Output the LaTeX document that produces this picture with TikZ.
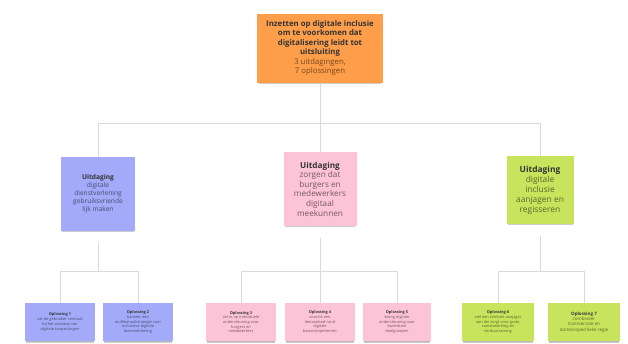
\documentclass[tikz,border=0pt]{standalone}
\usepackage{fontspec}
\setmainfont{Open Sans}
\usetikzlibrary{shadows}
\definecolor{orng}{HTML}{FF9E4A}
\definecolor{blu}{HTML}{A3AAF9}
\definecolor{pnk}{HTML}{FDC4D8}
\definecolor{grn}{HTML}{C8E45C}
\definecolor{connc}{HTML}{DADADA}
\tikzset{
  note/.style={rectangle, align=center, inner sep=1pt,
    drop shadow={shadow xshift=0pt, shadow yshift=-2.5pt, opacity=0.28, fill=black!70, shadow scale=0.97}},
  topnote/.style={note, fill=orng, minimum width=126pt, minimum height=69pt,
    font=\fontsize{7.8}{9.5}\selectfont, text=black!80},
  chal/.style={note, minimum width=#1, minimum height=74pt, text=black!80},
  bluenote/.style={chal=74pt, fill=blu, font=\fontsize{6.6}{7.9}\selectfont},
  pinknote/.style={chal=73pt, fill=pnk, font=\fontsize{8.2}{9.6}\selectfont},
  greennote/.style={chal=67pt, fill=grn, minimum height=68pt, font=\fontsize{8.4}{10}\selectfont},
  sol/.style={note, minimum width=70pt, minimum height=38pt, text=black!78,
    font=\fontsize{3.9}{4.7}\selectfont,
    drop shadow={shadow xshift=0pt, shadow yshift=-1.5pt, opacity=0.15, fill=black!70, shadow scale=0.97}},
  link/.style={draw=connc, line width=0.8pt},
}
\newcommand{\sub}[2]{{\color{black!55!#1}#2}}
\begin{document}
\begin{tikzpicture}[x=1pt, y=-1pt]
\fill[white] (0,0) rectangle (628,343);
\useasboundingbox (0,0) rectangle (628,343);

\coordinate (h1) at (0,123);
\coordinate (h2) at (0,271);

\node[topnote] (top) at (320,48) {\textbf{Inzetten op digitale inclusie}\\\textbf{om te voorkomen dat}\\\textbf{digitalisering leidt tot}\\\textbf{uitsluiting}\\\sub{orng}{3 uitdagingen,}\\\sub{orng}{7 oplossingen}};

\node[bluenote] (c1) at (98,194) {\textbf{Uitdaging}\\\sub{blu}{digitale}\\\sub{blu}{dienstverlening}\\\sub{blu}{gebruiksvriende}\\\sub{blu}{lijk maken}};
\node[pinknote] (c2) at (320,189) {\textbf{Uitdaging}\\\sub{pnk}{zorgen dat}\\\sub{pnk}{burgers en}\\\sub{pnk}{medewerkers}\\\sub{pnk}{digitaal}\\\sub{pnk}{meekunnen}};
\node[greennote] (c3) at (540,190) {\textbf{Uitdaging}\\\sub{grn}{digitale}\\\sub{grn}{inclusie}\\\sub{grn}{aanjagen en}\\\sub{grn}{regisseren}};

\node[sol, fill=blu] (s1) at (60,322) {\textbf{Oplossing 1}\\\sub{blu}{zet de gebruiker centraal}\\\sub{blu}{bij het ontwerp van}\\\sub{blu}{digitale toepassingen}};
\node[sol, fill=blu] (s2) at (138,322) {\textbf{Oplossing 2}\\\sub{blu}{hanteer een}\\\sub{blu}{multikanaalstrategie voor}\\\sub{blu}{inclusieve digitale}\\\sub{blu}{dienstverlening}};
\node[sol, fill=pnk] (s3) at (241,322) {\textbf{Oplossing 3}\\\sub{pnk}{zet in op individuele}\\\sub{pnk}{ondersteuning voor}\\\sub{pnk}{burgers en}\\\sub{pnk}{medewerkers}};
\node[sol, fill=pnk] (s4) at (320,322) {\textbf{Oplossing 4}\\\sub{pnk}{voorzie een}\\\sub{pnk}{leeraanbod rond}\\\sub{pnk}{digitale}\\\sub{pnk}{basiscompetenties}};
\node[sol, fill=pnk, minimum width=68pt] (s5) at (397,322) {\textbf{Oplossing 5}\\\sub{pnk}{breng digitale}\\\sub{pnk}{ondersteuning naar}\\\sub{pnk}{kwetsbare}\\\sub{pnk}{doelgroepen}};
\node[sol, fill=grn, minimum width=72pt] (s6) at (498,322) {\textbf{Oplossing 6}\\\sub{grn}{stel een centrale aanjager}\\\sub{grn}{aan die zorgt voor groei,}\\\sub{grn}{samenwerking en}\\\sub{grn}{verduurzaming}};
\node[sol, fill=grn, minimum width=72pt, font=\fontsize{4.5}{5.4}\selectfont] (s7) at (584,322) {\textbf{Oplossing 7}\\\sub{grn}{combineer}\\\sub{grn}{transversale en}\\\sub{grn}{domeinspecifieke regie}};

% level 1
\draw[link] (top.south) -- (top.south |- h1);
\draw[link] (c1.north) |- (c3.north |- h1) -- (c3.north);
\draw[link] (c2.north) -- (c2.north |- h1);

% level 2
\draw[link] ([yshift=-12pt]c1.south) -- (c1.south |- h2);
\draw[link] (s1.north) |- (s2.north |- h2) -- (s2.north);
\draw[link] ([yshift=-12pt]c2.south) -- (c2.south |- h2);
\draw[link] (s3.north) |- (s5.north |- h2) -- (s5.north);
\draw[link] (s4.north) -- (s4.north |- h2);
\draw[link] ([yshift=-12pt]c3.south) -- (c3.south |- h2);
\draw[link] (s6.north) |- (s7.north |- h2) -- (s7.north);
\end{tikzpicture}
\end{document}
